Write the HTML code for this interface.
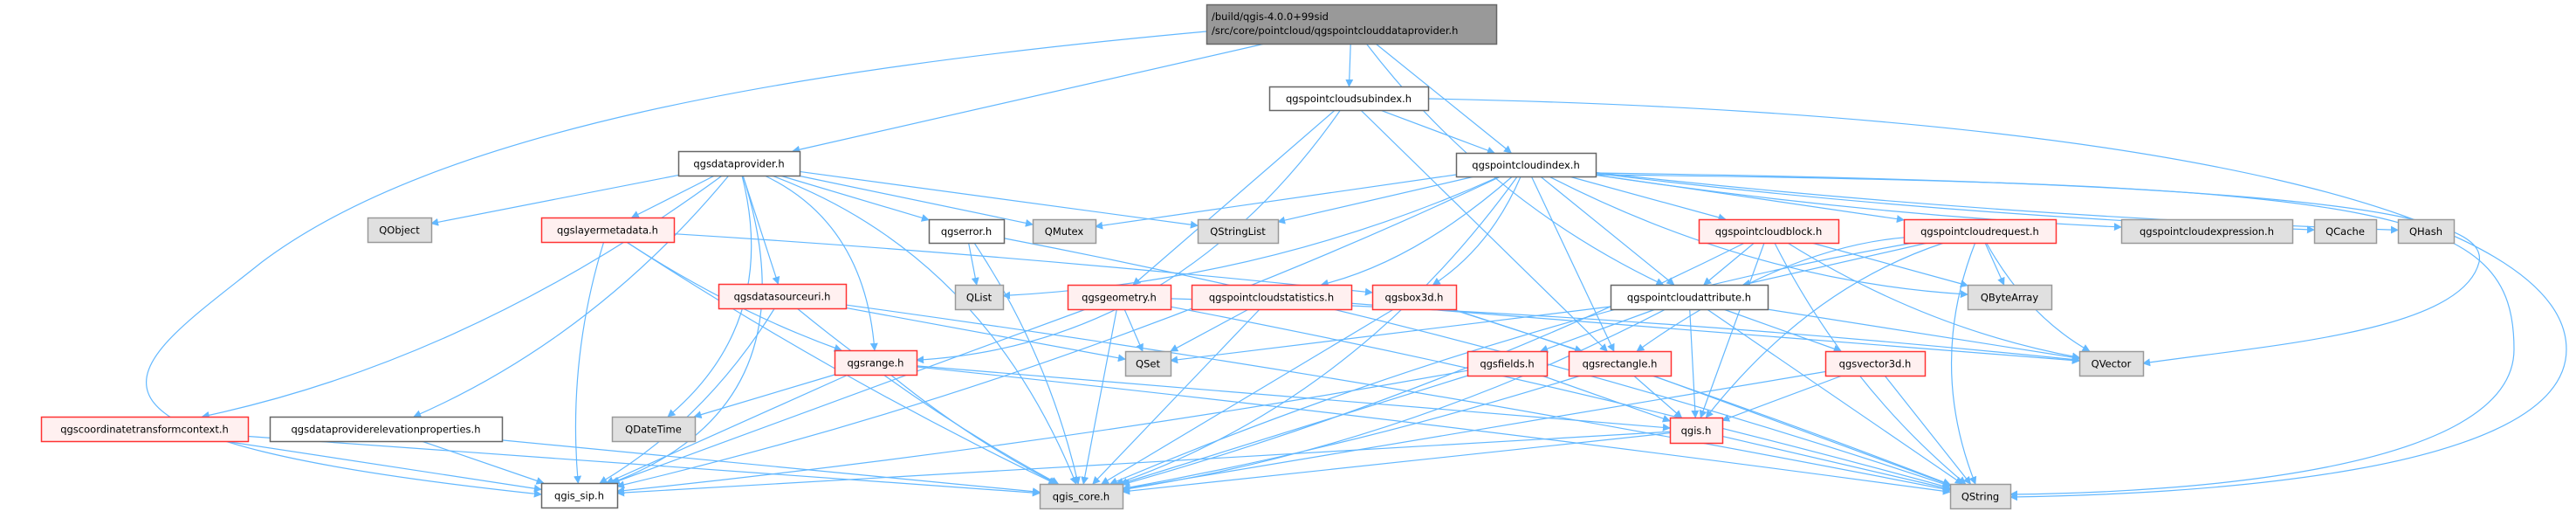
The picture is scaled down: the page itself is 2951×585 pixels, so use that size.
<!DOCTYPE html>
<html><head><meta charset="utf-8">
<style>
html,body{margin:0;padding:0;background:#fff;}
body{width:2951px;height:585px;overflow:hidden;position:relative;font-family:"DejaVu Sans","Liberation Sans",sans-serif;}
svg{position:absolute;left:0;top:0;}
</style></head><body>
<svg id="g" width="2951" height="585" xmlns="http://www.w3.org/2000/svg">
<defs><marker id="a" viewBox="0 0 10 10" refX="9" refY="5" markerWidth="9" markerHeight="9" orient="auto" markerUnits="userSpaceOnUse"><path d="M0,0 L10,5 L0,10 z" fill="#63b8ff"/></marker></defs>
<g id="e" fill="none" stroke="#63b8ff" stroke-width="1.2">
<path marker-end="url(#a)" d="M1636,113 C2500,130 2940,250 2940,400 C2940,545 2500,566 2303,569"/>
<path marker-end="url(#a)" d="M1828,200 C2750,210 2880,240 2880,400 C2880,540 2500,564 2303,566"/>
<path marker-end="url(#a)" d="M1828,198 C2700,210 2850,250 2840,300 C2820,380 2600,395 2455,416"/>
<path marker-end="url(#a)" d="M1382,36 C900,80 500,150 300,300 C150,420 0,500 620,566"/>
</g>
<g id="n"></g>
</svg>
<script>
var N={
root:[1382,5,1714,50,'r','/build/qgis-4.0.0+99sid|/src/core/pointcloud/qgspointclouddataprovider.h'],
sub:[1454,99,1636,126,'w','qgspointcloudsubindex.h'],
idx:[1668,175,1828,202,'w','qgspointcloudindex.h'],
dp:[777,173,916,201,'w','qgsdataprovider.h'],
QObject:[421,249,494,277,'g','QObject'],
lm:[620,249,772,277,'x','qgslayermetadata.h'],
err:[1064,251,1150,278,'w','qgserror.h'],
QMutex:[1183,251,1255,278,'g','QMutex'],
QStringList:[1372,251,1464,278,'g','QStringList'],
blk:[1946,251,2106,278,'x','qgspointcloudblock.h'],
req:[2181,251,2355,278,'x','qgspointcloudrequest.h'],
exp:[2430,251,2626,278,'g','qgspointcloudexpression.h'],
QCache:[2651,251,2722,278,'g','QCache'],
QHash:[2747,251,2811,278,'g','QHash'],
dsu:[823,325,969,353,'x','qgsdatasourceuri.h'],
QList:[1094,326,1149,354,'g','QList'],
geo:[1223,326,1341,354,'x','qgsgeometry.h'],
st:[1365,326,1548,354,'x','qgspointcloudstatistics.h'],
box:[1572,326,1668,354,'x','qgsbox3d.h'],
att:[1845,326,2025,354,'w','qgspointcloudattribute.h'],
QByteArray:[2254,326,2350,354,'g','QByteArray'],
rng:[956,401,1050,429,'x','qgsrange.h'],
QSet:[1289,402,1341,430,'g','QSet'],
fld:[1681,402,1772,430,'x','qgsfields.h'],
rect:[1797,402,1914,430,'x','qgsrectangle.h'],
v3:[2091,402,2205,430,'x','qgsvector3d.h'],
QVector:[2382,402,2455,430,'g','QVector'],
ctc:[47,477,284,505,'x','qgscoordinatetransformcontext.h'],
elev:[309,477,575,505,'w','qgsdataproviderelevationproperties.h'],
QDateTime:[701,477,796,505,'g','QDateTime'],
qgis:[1913,478,1973,507,'x','qgis.h'],
sip:[620,553,707,581,'w','qgis_sip.h'],
core:[1191,554,1286,582,'g','qgis_core.h'],
QString:[2234,554,2303,582,'g','QString']
};
var E=[
['root','dp'],['root','sub'],['root','idx'],['root','att',60],
['sub','idx'],['sub','rng',-150],['sub','geo'],['sub','rect'],
['dp','QObject'],['dp','lm'],['dp','dsu'],['dp','ctc',-80],['dp','elev',-60],['dp','QDateTime',-100],['dp','sip',-200],['dp','core',-120],['dp','err'],['dp','QMutex'],['dp','QStringList'],['dp','rng',-80],
['idx','QMutex'],['idx','QStringList'],['idx','QList',-60],['idx','core',-100],['idx','st',-40],['idx','box',-30],['idx','rect'],['idx','att'],['idx','blk'],['idx','req'],['idx','exp',20],['idx','QCache',20],['idx','QHash',20],['idx','QByteArray',60],['idx','sip',-60],
['err','QList'],['err','core',-30],['err','QString',-40],
['lm','box',-10],['lm','rng',20],['lm','sip',30],['lm','core',20],
['dsu','sip',-40],['dsu','core',20],['dsu','QSet'],['dsu','QString',-20],
['rng','QDateTime'],['rng','sip'],['rng','core',15],['rng','qgis'],['rng','QString',-10],
['geo','QSet'],['geo','core'],['geo','sip'],['geo','QVector',-20],['geo','QString',-20],
['st','QSet'],['st','core'],['st','QVector'],
['box','rect'],['box','core'],['box','QString',-10],
['att','fld'],['att','qgis'],['att','v3'],['att','QString'],['att','QVector'],['att','QSet'],['att','core',-60],
['blk','att'],['blk','QByteArray'],['blk','core',-40],['blk','qgis'],['blk','QVector',40],['blk','QString',40],
['req','att'],['req','QByteArray'],['req','QVector',30],['req','QString',60],['req','core',60],['req','rect',60],['req','qgis',60],
['fld','qgis'],['fld','core'],['fld','sip',-20],
['rect','qgis'],['rect','core',-20],['rect','QString'],
['v3','qgis'],['v3','core'],['v3','QString'],
['qgis','core'],['qgis','sip'],['qgis','QString'],
['ctc','sip'],['ctc','core'],['elev','sip'],['elev','core']
];
function c(b){return[(b[0]+b[2])/2,(b[1]+b[3])/2];}
function clip(b,p,q){
 var dx=q[0]-p[0],dy=q[1]-p[1],hw=(b[2]-b[0])/2,hh=(b[3]-b[1])/2;
 var t=Math.min(dx?hw/Math.abs(dx):1e9,dy?hh/Math.abs(dy):1e9);
 return[p[0]+dx*t,p[1]+dy*t];}
var eg=document.getElementById('e'),ng=document.getElementById('n'),S='http://www.w3.org/2000/svg';
E.forEach(function(e){var a=N[e[0]],b=N[e[1]],pa=c(a),pb=c(b),k=e[2]||0;
 var mx=(pa[0]+pb[0])/2,my=(pa[1]+pb[1])/2,dx=pb[0]-pa[0],dy=pb[1]-pa[1],L=Math.hypot(dx,dy);
 var cx=mx+(-dy/L)*k,cy=my+(dx/L)*k;
 var s=clip(a,pa,[cx,cy]),t=clip(b,pb,[cx,cy]);
 var p=document.createElementNS(S,'path');p.setAttribute('d','M'+s[0]+','+s[1]+' Q'+cx+','+cy+' '+t[0]+','+t[1]);
 p.setAttribute('marker-end','url(#a)');eg.appendChild(p);});
var st={r:['#999999','#666666'],w:['#ffffff','#666666'],x:['#fff0f0','#ff3333'],g:['#e0e0e0','#999999']};
for(var k in N){var b=N[k],s=st[b[4]];
 var r=document.createElementNS(S,'rect');r.setAttribute('x',b[0]+.5);r.setAttribute('y',b[1]+.5);r.setAttribute('width',b[2]-b[0]);r.setAttribute('height',b[3]-b[1]);
 r.setAttribute('fill',s[0]);r.setAttribute('stroke',s[1]);r.setAttribute('stroke-width','1.5');ng.appendChild(r);
 var lines=b[5].split('|');
 lines.forEach(function(l,i){var t=document.createElementNS(S,'text');
  if(lines.length>1){t.setAttribute('x',b[0]+6);t.setAttribute('y',b[1]+18+i*16);}
  else{t.setAttribute('x',(b[0]+b[2])/2);t.setAttribute('y',(b[1]+b[3])/2+4.5);t.setAttribute('text-anchor','middle');}
  t.setAttribute('font-size','11.5');t.setAttribute('fill','#000');t.textContent=l;ng.appendChild(t);});}
</script>
</body></html>
